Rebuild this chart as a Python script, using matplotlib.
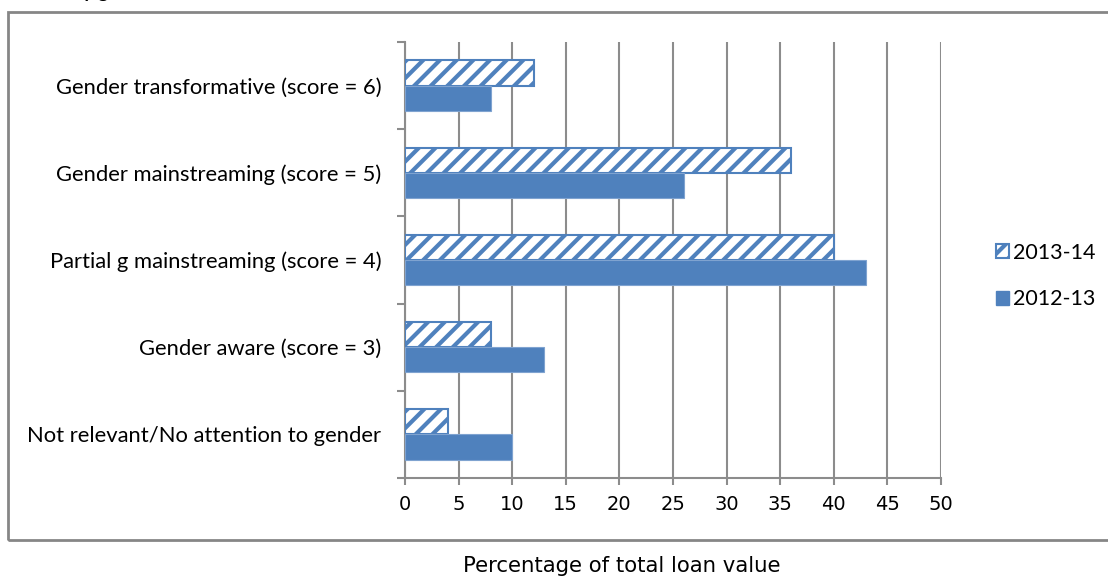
import matplotlib
matplotlib.use("Agg")
import matplotlib.pyplot as plt
from matplotlib.patches import Rectangle, Patch

categories = [
    "Not relevant/No attention to gender",
    "Gender aware (score = 3)",
    "Partial g mainstreaming (score = 4)",
    "Gender mainstreaming (score = 5)",
    "Gender transformative (score = 6)",
]
values_2013_14 = [4, 8, 40, 36, 12]
values_2012_13 = [10, 13, 43, 26, 8]
series_labels = ["2013-14", "2012-13"]
x_ticks = [0, 5, 10, 15, 20, 25, 30, 35, 40, 45, 50]

BLUE = "#4F81BD"
GRID = "#8C8C8C"
LABEL_FONT = "Lato"

plt.rcParams["hatch.color"] = BLUE
plt.rcParams["hatch.linewidth"] = 3.0

fig = plt.figure(figsize=(11.08, 5.77), dpi=100)
ax = fig.add_axes([405 / 1108, 1 - 478 / 577, 536 / 1108, 436 / 577])

pos = list(range(len(categories)))
bar_h = 0.29

ax.barh([p + bar_h / 2 for p in pos], values_2013_14, height=bar_h,
        color="white", edgecolor=BLUE, hatch="//", linewidth=1.5, zorder=3)
ax.barh([p - bar_h / 2 for p in pos], values_2012_13, height=bar_h,
        color=BLUE, edgecolor="#7FA3D0", linewidth=0.8, zorder=3)

ax.set_xlim(0, 50)
ax.set_ylim(-0.5, len(categories) - 0.5)

ax.set_xticks(x_ticks)
ax.set_xticklabels([str(t) for t in x_ticks], fontsize=14, family="DejaVu Sans")
ax.tick_params(axis="x", length=5, width=1.5, color=GRID, pad=7)
ax.xaxis.grid(True, color=GRID, linewidth=1.5, zorder=0)

ax.set_yticks([p - 0.5 for p in pos] + [len(categories) - 0.5])
ax.set_yticklabels([])
ax.set_yticks(pos, minor=True)
ax.set_yticklabels(categories, minor=True, fontsize=15.8, family=LABEL_FONT)
ax.tick_params(axis="y", which="major", length=6, width=1.5, color=GRID)
ax.tick_params(axis="y", which="minor", length=0, pad=17)

for side in ["top", "right"]:
    ax.spines[side].set_visible(False)
for side in ["left", "bottom"]:
    ax.spines[side].set_color(GRID)
    ax.spines[side].set_linewidth(1.5)

handles = [
    Patch(facecolor="white", edgecolor=BLUE, hatch="//", linewidth=1.5),
    Patch(facecolor=BLUE, edgecolor=BLUE),
]
fig.legend(handles, series_labels, loc="center left",
           bbox_to_anchor=(996 / 1108, 1 - 276 / 577), frameon=False,
           prop={"family": LABEL_FONT, "size": 15.5},
           handlelength=0.6, handleheight=0.6, handletextpad=0.2,
           labelspacing=1.25, borderaxespad=0, borderpad=0)

fig.text(622 / 1108, 1 - 566 / 577, "Percentage of total loan value",
         ha="center", va="center", fontsize=15.3, family="DejaVu Sans")

# outer chart frame (right edge runs off the picture)
fig.patches.append(Rectangle((8 / 1108, 1 - 540 / 577), 1.2, 528 / 577,
                             transform=fig.transFigure, fill=False,
                             edgecolor="#868686", linewidth=2, zorder=0))

# cut-off caption above the frame
fig.text(72 / 1108, 1 + 2 / 577, "by gender", ha="left", va="baseline",
         fontsize=14, fontweight="bold", family=LABEL_FONT)

fig.savefig("out.png", dpi=100)
